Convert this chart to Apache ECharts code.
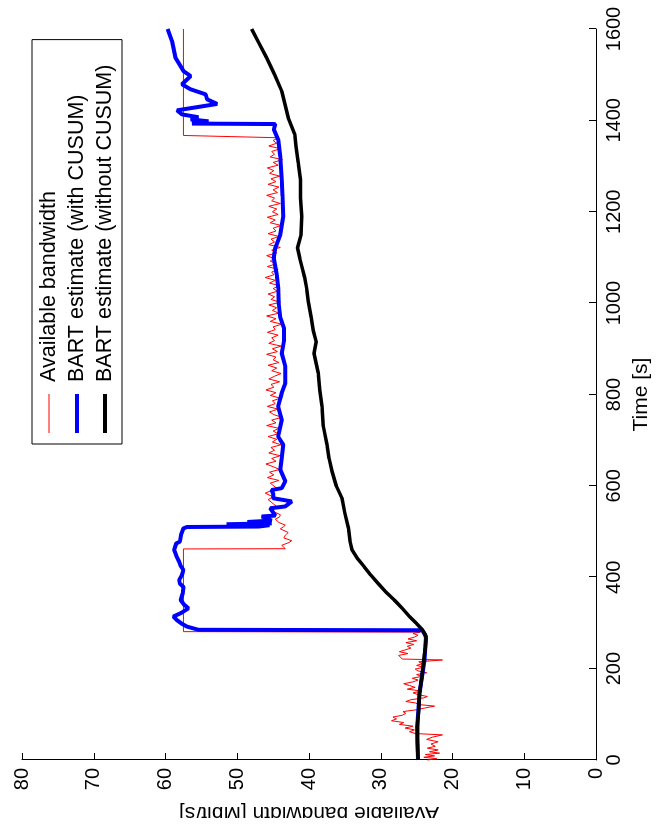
<!DOCTYPE html>
<html>
<head>
<meta charset="utf-8">
<script src="https://cdn.jsdelivr.net/npm/echarts@6/dist/echarts.min.js"></script>
<style>
html,body{margin:0;padding:0;background:#fff;width:657px;height:840px;overflow:hidden;}
#clip{position:absolute;left:0;top:0;width:657px;height:818px;overflow:hidden;background:#fff;}
#chart{position:absolute;left:0;top:0;width:840px;height:657px;transform-origin:0 0;transform:translateY(840px) rotate(-90deg);}
</style>
</head>
<body>
<div id="clip"><div id="chart"></div></div>
<script>
// [time (s), bandwidth (Mbit/s)]
var availableBandwidth = [
[0,23.5],[3,22.2],[6,24.0],[9,22.5],[12,23.8],[15,21.8],[18,23.2],[22,22.0],[26,23.5],[30,22.4],[35,23.0],[40,22.0],[45,23.6],[50,22.8],[55,21.4],[58,25.2],[62,26.0],[66,25.3],[70,26.6],[74,25.5],[78,27.4],[82,26.8],[86,28.5],[90,27.8],[94,28.3],[98,27.0],[102,26.5],[106,26.9],[110,25.0],[114,23.8],[118,22.5],[121,24.5],[125,25.2],[128,26.5],[132,25.8],[136,24.0],[139,23.5],[143,24.8],[147,25.5],[151,24.3],[155,26.3],[159,25.2],[163,26.0],[167,26.8],[171,25.5],[175,24.8],[179,25.6],[183,24.3],[187,25.0],[191,23.6],[195,24.8],[199,25.2],[203,24.0],[207,25.0],[211,24.2],[215,24.7],[219,21.4],[221,27.0],[225,26.8],[229,27.5],[233,26.2],[237,27.4],[241,26.6],[245,25.8],[249,26.3],[253,25.4],[257,26.5],[261,25.0],[265,26.2],[269,25.3],[273,24.8],[277,25.5],[280,24.5],
[281,57.5],[462,57.5],
[462.5,43.3],[470,43.8],[476,42.8],[480,42.4],[486,43.5],[492,43.3],[498,42.9],[506,44.0],[510,43.6],[514,43.3],[520,44.2],[527,44.7],[532,44.1],[537,44.0],[544,45.0],[551,45.2],[556,44.6],[560,44.5],[565,45.3],[570,45.7],[576,45.0],[584,46.1],[590,45.2],[596,44.6],
[600,44.7],[606,45.4],[612,44.2],[618,45.8],[624,44.9],[630,45.5],[636,44.1],[642,45.0],[648,46.0],[654,44.6],[660,45.2],[666,44.0],[672,45.6],[678,44.8],[684,45.3],[690,43.9],[696,45.1],[702,44.5],[708,45.7],[714,44.3],[720,45.0],[726,44.2],[732,45.9],[738,44.6],[744,45.2],[750,43.8],[756,44.9],[762,45.5],[768,44.3],[774,45.8],[780,44.7],[786,45.1],[792,44.0],[798,45.4],[804,44.6],[810,46.0],[816,44.9],[822,45.3],[828,44.1],[834,45.6],[840,44.8],[846,43.9],[852,45.2],[858,44.5],[864,45.7],[870,44.2],[876,45.0],[882,44.6],[888,45.9],[894,44.4],[900,45.1],[906,43.9],[912,45.6],[918,44.8],[924,45.2],[930,44.3],[936,45.8],[942,44.7],[948,45.0],[954,43.8],[960,45.4],[966,44.6],[972,45.9],[978,44.2],[984,45.1],[990,44.5],[996,45.6],
[1002,44.0],[1008,45.3],[1014,44.8],[1020,45.7],[1026,44.4],[1032,45.0],[1038,44.1],[1044,45.5],[1050,44.7],[1056,46.1],[1062,44.9],[1068,45.2],[1074,44.3],[1080,45.8],[1086,44.6],[1092,45.4],[1098,44.9],[1104,45.9],[1110,44.5],[1116,45.2],[1122,44.0],[1128,45.6],[1134,44.8],[1140,45.3],[1146,44.2],[1152,45.7],[1158,44.6],[1164,45.0],[1170,43.9],[1176,45.4],[1182,44.7],[1188,45.8],[1194,44.3],[1200,45.1],[1206,44.5],[1212,45.6],[1218,44.0],[1224,45.2],[1230,44.8],[1236,45.9],[1242,44.4],[1248,45.0],[1254,44.2],[1260,45.7],[1266,44.6],[1272,45.3],[1278,44.1],[1284,45.5],[1290,44.9],[1296,45.8],[1302,44.3],[1308,45.0],[1314,43.7],[1320,45.4],[1326,44.8],[1332,45.2],[1338,44.0],[1344,45.6],[1350,44.5],[1356,45.0],[1362,44.3],[1366,44.4],
[1367,57.5],[1600,57.5]
];
var bartWithCusum = [
[0,24.8],[73,24.9],[146,24.6],[219,23.9],[270,23.7],[284,24.2],[285,55.4],[292,57.0],[298,57.7],[306,58.4],[314,58.9],[322,57.8],[332,56.8],[340,57.4],[350,57.9],[365,57.6],[379,57.5],[386,58.0],[394,58.1],[405,57.7],[416,57.5],[425,57.9],[434,58.1],[447,58.5],[460,58.8],[474,58.5],[478,58.0],[495,57.8],[507,57.5],[510,57.0],
[511,47.0],[514,45.5],[516,51.5],[518,45.2],[521,48.6],[524,45.2],[533,46.6],[535,44.7],[551,45.4],[555,43.3],[566,42.4],[570,42.6],[573,45.0],[583,45.0],[591,45.2],[595,43.8],[610,43.3],[635,44.0],[661,43.8],[690,43.6],[708,44.3],[744,43.8],[774,44.3],[803,43.8],[825,43.3],[861,43.3],[890,43.8],[916,43.5],[946,43.5],[968,44.0],[997,44.2],[1033,44.3],[1062,44.5],[1099,44.9],[1121,44.7],[1150,44.0],[1190,43.6],[1234,43.7],[1270,43.8],[1321,44.0],[1358,44.3],[1380,44.9],[1392,44.7],
[1393,56.3],[1398,54.0],[1402,56.5],[1407,55.4],[1413,57.7],[1422,58.4],[1429,55.6],[1436,52.8],[1446,54.2],[1457,54.4],[1468,56.5],[1479,57.7],[1497,56.5],[1508,57.5],[1537,58.6],[1574,59.1],[1600,59.7]
];
var bartWithoutCusum = [
[0,24.8],[40,24.9],[73,24.9],[110,24.7],[146,24.6],[180,24.3],[219,24.0],[245,23.8],[263,23.7],[275,23.8],[285,24.2],[300,25.1],[314,26.0],[332,27.0],[350,28.1],[368,29.3],[387,30.4],[405,31.4],[423,32.3],[440,33.2],[460,34.0],[480,34.3],[507,34.5],[540,35.0],[573,35.4],[600,36.2],[632,36.8],[660,37.2],[690,37.5],[730,38.0],[774,38.2],[810,38.5],[847,38.7],[890,39.3],[916,39.0],[940,39.4],[968,39.7],[1004,40.1],[1030,40.3],[1055,40.6],[1080,41.0],[1099,41.3],[1121,41.6],[1150,41.1],[1190,41.0],[1230,41.2],[1270,41.2],[1307,41.5],[1343,41.8],[1370,42.0],[1406,42.9],[1464,43.8],[1500,44.8],[1537,45.9],[1570,47.0],[1600,48.0]
];
var seriesNames = ['Available bandwidth', 'BART estimate (with CUSUM)', 'BART estimate (without CUSUM)'];
var timeRange = [0, 1600, 200];
var bwRange = [0, 80, 10];

var FONT = 'Liberation Sans, Arial, sans-serif';
var chart = echarts.init(document.getElementById('chart'), null, {renderer:'canvas'});
chart.setOption({
  animation: false,
  backgroundColor: '#fff',
  grid: {left: 80, right: 29, top: 22, bottom: 58, containLabel: false},
  legend: {
    data: [
      {name: seriesNames[0], icon: 'path://M0,0H39V1H0Z'},
      {name: seriesNames[1], icon: 'path://M0,0H39V4H0Z'},
      {name: seriesNames[2], icon: 'path://M0,0H39V4H0Z'}
    ],
    orient: 'vertical',
    left: 396, top: 32,
    padding: [5, 25, 5, 11],
    itemWidth: 39, itemHeight: 14, itemGap: 4,
    itemStyle: {borderWidth: 0},
    borderColor: '#000', borderWidth: 1,
    backgroundColor: '#fff',
    textStyle: {fontSize: 21.5, lineHeight: 24, color: '#000', fontFamily: FONT, padding: [0, 0, 0, 7]}
  },
  xAxis: {
    type: 'value', min: timeRange[0], max: timeRange[1], interval: timeRange[2],
    axisLine: {show: true, onZero: false, lineStyle: {color: '#000', width: 1}},
    axisTick: {show: true, inside: true, length: 7, lineStyle: {color: '#000'}},
    axisLabel: {fontSize: 20, color: '#000', margin: 8, fontFamily: FONT, formatter: function (v) { return String(v); }},
    splitLine: {show: false},
    name: 'Time [s]', nameLocation: 'middle', nameGap: 35,
    nameTextStyle: {fontSize: 21, color: '#000', fontFamily: FONT}
  },
  yAxis: {
    type: 'value', min: bwRange[0], max: bwRange[1], interval: bwRange[2],
    axisLine: {show: true, onZero: false, lineStyle: {color: '#000', width: 1}},
    axisTick: {show: true, inside: true, length: 7, lineStyle: {color: '#000'}},
    axisLabel: {fontSize: 20, color: '#000', margin: 8, fontFamily: FONT, formatter: function (v) { return String(v); }},
    splitLine: {show: false},
    name: 'Available bandwidth [Mbit/s]', nameLocation: 'middle', nameGap: 42,
    nameTextStyle: {fontSize: 21, color: '#000', fontFamily: FONT}
  },
  series: [
    {name: seriesNames[0], type: 'line', data: availableBandwidth, symbol: 'none', showSymbol: false,
     color: '#ff0000', lineStyle: {color: '#ff0000', width: 1}, z: 2},
    {name: seriesNames[1], type: 'line', data: bartWithCusum, symbol: 'none', showSymbol: false,
     color: '#0000ff', lineStyle: {color: '#0000ff', width: 4}, z: 3},
    {name: seriesNames[2], type: 'line', data: bartWithoutCusum, symbol: 'none', showSymbol: false,
     color: '#000000', lineStyle: {color: '#000000', width: 3.5}, z: 4}
  ]
});
</script>
</body>
</html>
